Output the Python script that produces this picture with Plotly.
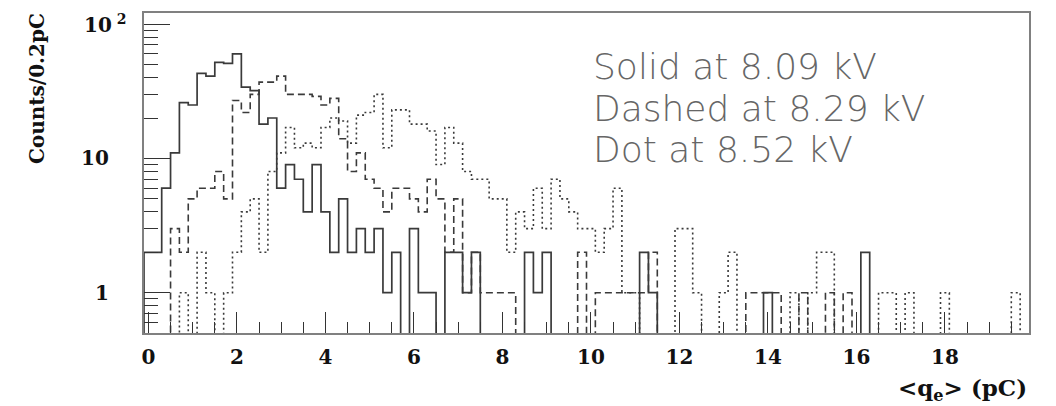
import numpy as np
import plotly.graph_objects as go

# Histogram binning: 100 bins of 0.2 pC, centred on 0, 0.2, ..., 19.8
bin_width = 0.2
x_low = -0.1
n_bins = 100

# Counts per bin for the three chamber voltages
solid_counts = [
    2, 2, 6, 11, 26, 25, 43, 41, 52, 51,
    60, 34, 32, 18, 20, 6, 9, 7, 4, 9,
    4, 2, 5, 2, 3, 2, 3, 1, 2, 0,
    3, 1, 1, 0, 2, 2, 1, 2, 0, 0,
    0, 0, 0, 2, 1, 2, 0, 0, 0, 0,
    0, 0, 0, 0, 0, 0, 2, 1, 0, 0,
    0, 0, 0, 0, 0, 0, 0, 0, 0, 0,
    1, 0, 0, 0, 0, 0, 0, 0, 0, 0,
    0, 2, 0, 0, 0, 0, 0, 0, 0, 0,
    0, 0, 0, 0, 0, 0, 0, 0, 0, 0,
]
dashed_counts = [
    0, 0, 0, 3, 2, 5, 6, 6, 8, 5,
    27, 22, 30, 37, 37, 41, 30, 30, 30, 29,
    25, 28, 14, 8, 11, 7, 6, 4, 6, 6,
    5, 4, 7, 5, 2, 5, 1, 2, 1, 1,
    1, 1, 0, 0, 0, 0, 0, 0, 0, 2,
    0, 1, 1, 1, 1, 1, 1, 2, 0, 0,
    0, 0, 0, 0, 0, 0, 0, 0, 1, 1,
    1, 1, 0, 0, 1, 0, 0, 1, 0, 1,
    0, 0, 0, 0, 0, 0, 0, 0, 0, 0,
    0, 0, 0, 0, 0, 0, 0, 0, 0, 0,
]
dotted_counts = [
    0, 0, 0, 0, 1, 0, 2, 1, 0, 1,
    2, 4, 5, 2, 8, 11, 17, 12, 13, 12,
    17, 20, 19, 13, 21, 22, 30, 12, 23, 23,
    18, 18, 16, 9, 17, 13, 8, 7, 7, 5,
    5, 2, 4, 3, 6, 3, 7, 5, 4, 3,
    3, 2, 3, 6, 1, 1, 0, 0, 0, 0,
    3, 3, 1, 0, 0, 1, 2, 0, 0, 0,
    0, 0, 0, 1, 0, 1, 2, 2, 0, 0,
    0, 0, 0, 1, 1, 0, 1, 0, 0, 0,
    1, 0, 0, 0, 0, 0, 0, 0, 1, 0,
]

legend_lines = ["Solid at 8.09 kV", "Dashed at 8.29 kV", "Dot at 8.52 kV"]
x_tick_vals = [0, 2, 4, 6, 8, 10, 12, 14, 16, 18]
y_tick_vals = [1, 10, 100]
y_tick_text = ["1", "10", "10<sup> 2</sup>"]

# Plot geometry (pixels)
W, H = 1056, 406
L, R, T, B = 144, 27, 13, 73
PW, PH = W - L - R, H - T - B
y_lo, y_hi = -0.300, 2.083  # log10 range


def step_outline(counts):
    """Histogram outline; empty bins drop below the frame (log scale)."""
    c = np.asarray(counts, dtype=float)
    c = np.where(c > 0, c, 0.1)
    edges = x_low + bin_width * np.arange(n_bins + 1)
    xs = np.repeat(edges, 2)
    ys = np.concatenate([[0.1], np.repeat(c, 2), [0.1]])
    return xs, ys


line_col = "#3a3a3a"
fig = go.Figure()
for counts, dash, width in [
    (dotted_counts, "2px,3px", 1.6),
    (dashed_counts, "7px,4px", 1.6),
    (solid_counts, "solid", 1.7),
]:
    xs, ys = step_outline(counts)
    fig.add_trace(go.Scatter(
        x=xs, y=ys, mode="lines",
        line=dict(color=line_col, width=width, dash=dash),
        hoverinfo="skip", showlegend=False,
    ))

frame_col = "#808080"
label_font = dict(family="DejaVu Serif", size=20, color="#111111", weight="bold")

fig.update_xaxes(
    range=[x_low, x_low + n_bins * bin_width],
    tickvals=x_tick_vals, ticktext=[str(v) for v in x_tick_vals],
    ticks="inside", ticklen=21, tickwidth=1.3, tickcolor="#333333",
    minor=dict(tickmode="array",
               tickvals=[v * 0.5 for v in range(1, 40) if v % 4 != 0],
               ticks="inside", ticklen=11, tickwidth=1.2, tickcolor="#333333"),
    tickfont=label_font, ticklabelstandoff=5,
    showline=True, linecolor=frame_col, linewidth=2, mirror=True,
    showgrid=False, zeroline=False,
)

minor_y = [0.6, 0.7, 0.8, 0.9] + [d for d in range(2, 10)] + [10 * d for d in range(2, 10)]
fig.update_yaxes(
    type="log", range=[y_lo, y_hi],
    tickvals=y_tick_vals, showticklabels=False,
    ticks="inside", ticklen=26, tickwidth=1.3, tickcolor="#333333",
    minor=dict(tickmode="array", tickvals=minor_y,
               ticks="inside", ticklen=14, tickwidth=1.2, tickcolor="#333333"),
    showline=True, linecolor=frame_col, linewidth=2, mirror=True,
    showgrid=False, zeroline=False,
)


def px_x(px):
    return (px - L) / PW


def px_y(py):
    return (H - B - py) / PH


annotations = []
# y-axis labels placed at the decade values on the log scale
for val, txt in zip(y_tick_vals, y_tick_text):
    anchor_left = val == 100
    annotations.append(dict(
        x=px_x(82 if anchor_left else 111), xref="paper",
        y=np.log10(val), yref="y",
        text=txt, showarrow=False,
        xanchor="left" if anchor_left else "right", yanchor="middle",
        font=label_font,
    ))

annotations.append(dict(
    x=px_x(37), xref="paper", y=px_y(89), yref="paper",
    text="Counts/0.2pC", textangle=-90, showarrow=False,
    xanchor="center", yanchor="middle",
    font=dict(family="DejaVu Serif", size=20, color="#111111", weight="bold"),
))
annotations.append(dict(
    x=px_x(1029), xref="paper", y=px_y(389), yref="paper",
    text="&lt;q<sub>e</sub>&gt; (pC)", showarrow=False,
    xanchor="right", yanchor="middle",
    font=dict(family="DejaVu Serif", size=23, color="#111111", weight="bold"),
))
for i, line in enumerate(legend_lines):
    annotations.append(dict(
        x=px_x(591), xref="paper", y=px_y(67 + 41 * i), yref="paper",
        text=line, showarrow=False, xanchor="left", yanchor="middle",
        font=dict(family="DejaVu Sans", size=36, color="#666666", weight=300),
    ))

fig.update_layout(
    width=W, height=H,
    margin=dict(l=L, r=R, t=T, b=B),
    paper_bgcolor="white", plot_bgcolor="white",
    annotations=annotations,
)

fig.write_html("out.html")
